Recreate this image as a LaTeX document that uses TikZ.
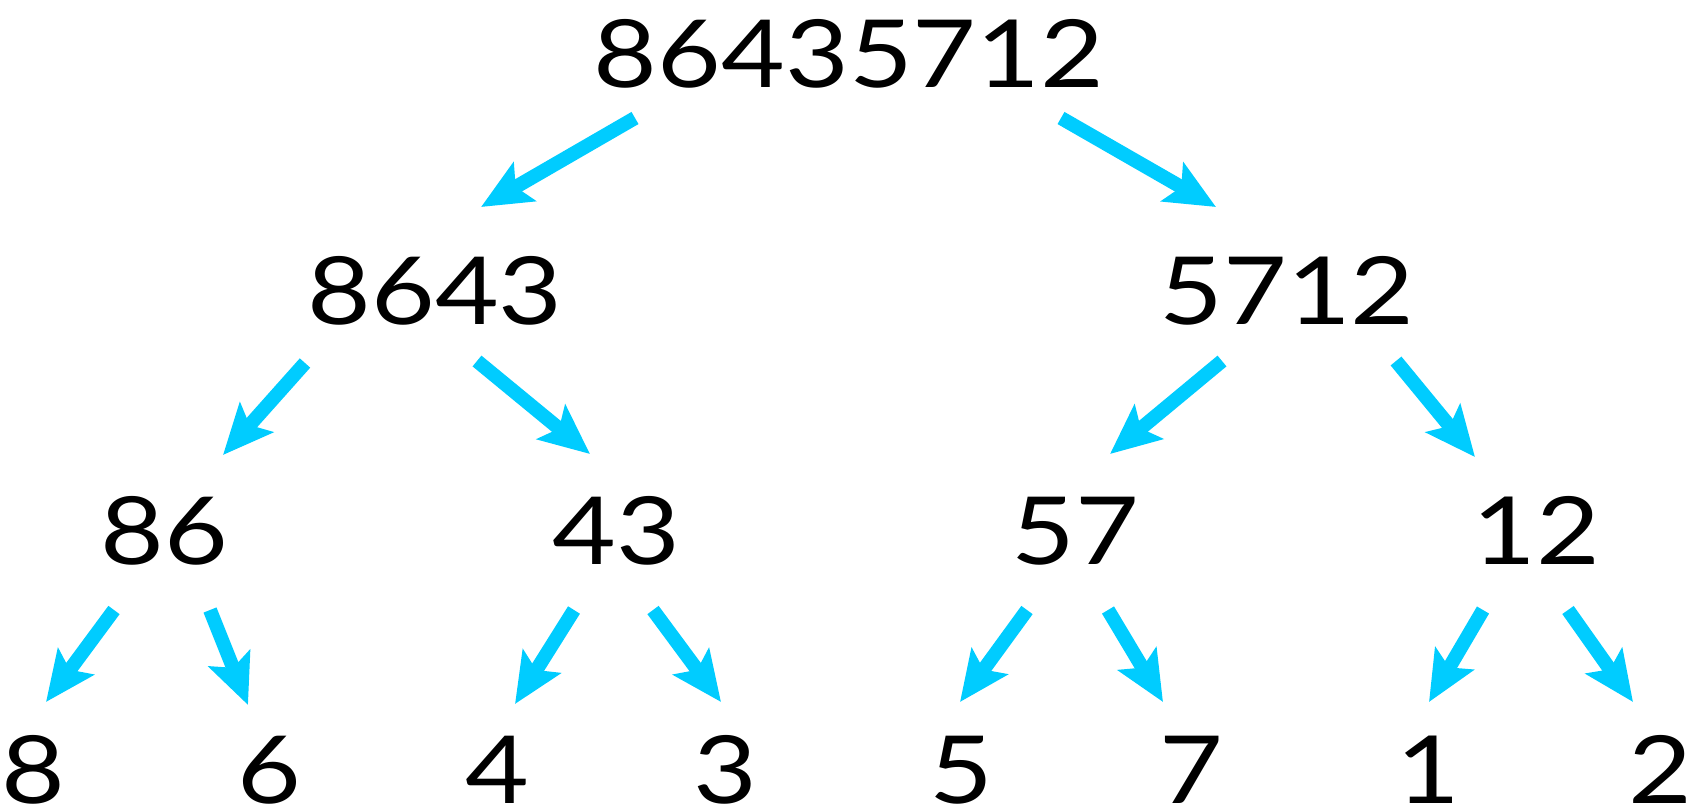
\documentclass[tikz,border=0pt]{standalone}
\usepackage{fontspec}
\newfontfamily\numfont{Lato}
\usetikzlibrary{arrows.meta}
\definecolor{arrowcyan}{RGB}{0,204,255}
\begin{document}
\begin{tikzpicture}[x=1pt,y=-1pt,
  num/.style={font=\numfont\fontsize{94}{94}\selectfont, anchor=base, inner sep=0pt, xscale=1.17},
  arr/.style={draw=arrowcyan, line width=14pt, -{Stealth[length=50pt, width=44pt, inset=10pt, fill=arrowcyan]}}]
\useasboundingbox (0,0) rectangle (1707,811);
% nodes
\node[num] (r) at (849,87) {86435712};
\node[num] (a) at (435,324) {8643};
\node[num] (b) at (1287,324) {5712};
\node[num] (aa) at (164,564) {86};
\node[num] (ab) at (616,564) {43};
\node[num] (ba) at (1075,564) {57};
\node[num] (bb) at (1536,564) {12};
\node[num] (l1) at (33,803) {8};
\node[num] (l2) at (269,803) {6};
\node[num] (l3) at (497,803) {4};
\node[num] (l4) at (725,803) {3};
\node[num] (l5) at (961,803) {5};
\node[num] (l6) at (1191,803) {7};
\node[num] (l7) at (1428,803) {1};
\node[num] (l8) at (1660,803) {2};
% arrow end points
\coordinate (r-a-s) at (635,118);  \coordinate (r-a-e) at (481,207);
\coordinate (r-b-s) at (1061,118); \coordinate (r-b-e) at (1216,207);
\coordinate (a-aa-s) at (305,363); \coordinate (a-aa-e) at (223,455);
\coordinate (a-ab-s) at (477,361); \coordinate (a-ab-e) at (590,454);
\coordinate (b-ba-s) at (1222,361); \coordinate (b-ba-e) at (1110,454);
\coordinate (b-bb-s) at (1396,361); \coordinate (b-bb-e) at (1475,457);
\coordinate (aa-1-s) at (114,610); \coordinate (aa-1-e) at (46,702);
\coordinate (aa-2-s) at (210,610); \coordinate (aa-2-e) at (248,705);
\coordinate (ab-3-s) at (574,610); \coordinate (ab-3-e) at (515,704);
\coordinate (ab-4-s) at (653,610); \coordinate (ab-4-e) at (721,702);
\coordinate (ba-5-s) at (1027,610); \coordinate (ba-5-e) at (960,702);
\coordinate (ba-6-s) at (1108,610); \coordinate (ba-6-e) at (1163,702);
\coordinate (bb-7-s) at (1483,610); \coordinate (bb-7-e) at (1429,702);
\coordinate (bb-8-s) at (1568,610); \coordinate (bb-8-e) at (1633,702);
\foreach \p in {r-a,r-b,a-aa,a-ab,b-ba,b-bb,aa-1,aa-2,ab-3,ab-4,ba-5,ba-6,bb-7,bb-8}
  \draw[arr] (\p-s) -- (\p-e);
\end{tikzpicture}
\end{document}
